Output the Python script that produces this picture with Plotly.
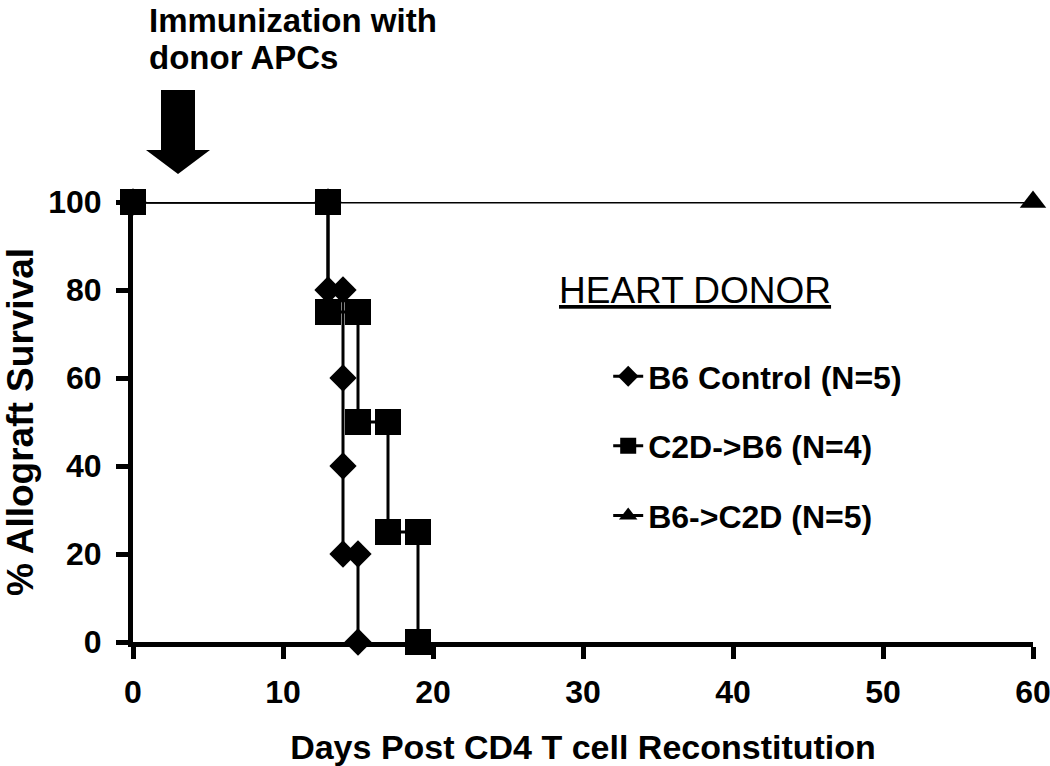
import plotly.graph_objects as go

# Kaplan-Meier step vertices (day, % survival)
b6_ctrl_days = [0, 13, 13, 14, 14, 14, 14, 15, 15]
b6_ctrl_surv = [100, 100, 80, 80, 60, 40, 20, 20, 0]

c2d_b6_days = [0, 13, 13, 15, 15, 17, 17, 19, 19]
c2d_b6_surv = [100, 100, 75, 75, 50, 50, 25, 25, 0]

b6_c2d_days = [0, 60]
b6_c2d_surv = [100, 100]

x_ticks = [0, 10, 20, 30, 40, 50, 60]
y_ticks = [0, 20, 40, 60, 80, 100]
x_range = [0, 60]
immunization_day = 3

FONT = "Liberation Sans, Arial, sans-serif"

fig = go.Figure()

# triangle series first so the squares sit on top at day 0
fig.add_trace(go.Scatter(
    x=b6_c2d_days, y=b6_c2d_surv, mode="lines+markers", name="B6->C2D (N=5)",
    line=dict(color="black", width=3),
    marker=dict(symbol="triangle-up", size=23, color="black"),
    legendgroup="c", legendrank=3, cliponaxis=False))

fig.add_trace(go.Scatter(
    x=b6_ctrl_days, y=b6_ctrl_surv, mode="lines+markers", name="B6 Control (N=5)",
    line=dict(color="black", width=3),
    marker=dict(symbol="diamond", size=21, color="black"),
    legendgroup="a", legendrank=1, cliponaxis=False))

fig.add_trace(go.Scatter(
    x=c2d_b6_days, y=c2d_b6_surv, mode="lines+markers", name="C2D->B6 (N=4)",
    line=dict(color="black", width=3),
    marker=dict(symbol="square", size=26, color="black"),
    legendgroup="b", legendrank=2, cliponaxis=False))

# block arrow marking immunization (pixel offsets from the top of the plot)
fig.add_shape(
    type="path", xref="paper", yref="paper", xsizemode="pixel", ysizemode="pixel",
    xanchor=(immunization_day - x_range[0]) / (x_range[1] - x_range[0]), yanchor=1,
    path="M-17,112 L17,112 L17,52 L32,52 L0,28 L-32,52 L-17,52 Z",
    fillcolor="black", line=dict(width=0), layer="above")

note_font = dict(family=FONT, size=33, color="black", weight="bold")
fig.add_annotation(
    text="Immunization with", xref="paper", yref="paper",
    x=0.0156, y=1.4136, xanchor="left", yanchor="middle",
    showarrow=False, font=note_font)
fig.add_annotation(
    text="donor APCs", xref="paper", yref="paper",
    x=0.0156, y=1.3295, xanchor="left", yanchor="middle",
    showarrow=False, font=note_font)

fig.add_annotation(
    text="<u>HEART DONOR</u>", xref="paper", yref="paper",
    x=0.471, y=0.798, xanchor="left", yanchor="middle",
    showarrow=False, font=dict(family=FONT, size=37, color="black"))

axis_common = dict(
    showline=True, linecolor="black", linewidth=5, mirror=False,
    ticks="outside", tickcolor="black", tickwidth=5, ticklen=12,
    showgrid=False, zeroline=False, automargin=False,
    ticklabeloverflow="allow",
    tickfont=dict(family=FONT, size=32, color="black", weight="bold"))

fig.update_xaxes(
    range=x_range, tickvals=x_ticks, ticklabelstandoff=6,
    title=dict(text="Days Post CD4 T cell Reconstitution", standoff=28,
               font=dict(family=FONT, size=34, color="black", weight="bold")),
    **axis_common)
fig.update_yaxes(
    range=[0, 100], tickvals=y_ticks, ticklabelstandoff=8,
    title=dict(text="% Allograft Survival", standoff=19,
               font=dict(family=FONT, size=37, color="black", weight="bold")),
    **axis_common)

fig.update_layout(
    width=1050, height=766,
    margin=dict(l=133, r=17, t=202, b=124),
    plot_bgcolor="white", paper_bgcolor="white",
    legend=dict(x=0.528, y=0.666, xanchor="left", yanchor="top",
                font=dict(family=FONT, size=32, color="black", weight="bold"),
                tracegroupgap=25, bgcolor="rgba(0,0,0,0)"),
)

# drop the browser's default body margin so the figure sits at the page origin
fig.write_html("out.html", config={"displayModeBar": False},
               post_script="document.body.style.margin='0';")
